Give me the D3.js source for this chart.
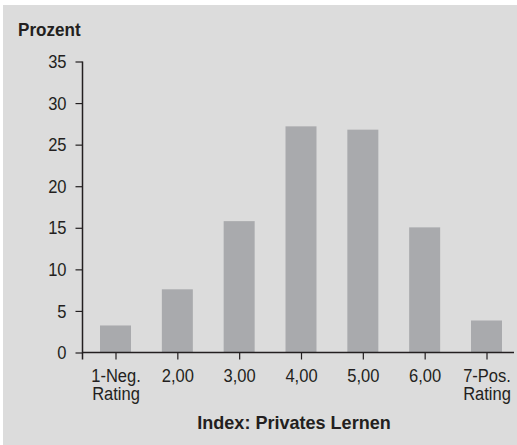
<!DOCTYPE html>
<html>
<head>
<meta charset="utf-8">
<script src="https://cdn.jsdelivr.net/npm/d3@7"></script>
<style>
  body { margin: 0; background: #fff; }
  text { font-family: "Liberation Sans", Arial, sans-serif; fill: #231f20; }
</style>
</head>
<body>
<div id="chart"></div>
<script>
// categories on the x axis (each may carry two lines)
const categories = ['1-Neg.|Rating', '2,00', '3,00', '4,00', '5,00', '6,00', '7-Pos.|Rating'];
// percentage per category
const values = [3.25, 7.6, 15.8, 27.2, 26.8, 15.05, 3.85];
const yTicks = [0, 5, 10, 15, 20, 25, 30, 35];

const width = 517, height = 445;
const axisLeft = 82.5, axisRight = 514, zeroY = 352.5, topY = 61.5;
const barWidth = 31;
const narrow = 0.87; // the reference uses a condensed face
const labelSize = 19;

const svg = d3.select('#chart').append('svg')
    .attr('width', width)
    .attr('height', height);

svg.append('rect')
    .attr('x', 3).attr('y', 5)
    .attr('width', width - 3).attr('height', height - 5)
    .attr('fill', '#dcdcdc');

let x = d3.scalePoint()
    .domain(categories)
    .range([115.5, 486.5]);

let y = d3.scaleLinear()
    .domain([0, 35])
    .range([zeroY, topY]);

// bars
svg.append('g').selectAll('rect')
    .data(values)
    .enter()
    .append('rect')
    .attr('x', (d, i) => x(categories[i]) - barWidth / 2)
    .attr('y', d => y(d))
    .attr('width', barWidth)
    .attr('height', d => zeroY - y(d))
    .attr('fill', '#a9aaad');

// y axis
let yAxis = svg.append('g')
    .attr('transform', 'translate(' + axisLeft + ',0)')
    .call(d3.axisLeft(y).tickValues(yTicks).tickSize(7).tickPadding(9).tickSizeOuter(0));
yAxis.select('.domain').remove();
yAxis.append('line')
    .attr('x1', 0).attr('x2', 0)
    .attr('y1', topY).attr('y2', zeroY + 7)
    .attr('stroke', '#231f20').attr('stroke-width', 1.5);
yAxis.selectAll('.tick line').attr('stroke', '#231f20').attr('stroke-width', 1.2);
yAxis.selectAll('.tick text')
    .attr('font-size', labelSize)
    .attr('font-family', '"Liberation Sans", Arial, sans-serif')
    .attr('fill', '#231f20')
    .attr('x', -16 / narrow)
    .attr('transform', 'scale(' + narrow + ',1)');

// x axis
let xAxis = svg.append('g')
    .attr('transform', 'translate(0,' + zeroY + ')')
    .call(d3.axisBottom(x).tickSize(7).tickFormat(''));
xAxis.select('.domain').remove();
xAxis.append('line')
    .attr('x1', axisLeft).attr('x2', axisRight)
    .attr('y1', 0).attr('y2', 0)
    .attr('stroke', '#231f20').attr('stroke-width', 1.5);
xAxis.selectAll('.tick line').attr('stroke', '#231f20').attr('stroke-width', 1.2);

xAxis.selectAll('.tick').each(function(d) {
    let t = d3.select(this).append('text')
        .attr('text-anchor', 'middle')
        .attr('font-size', labelSize)
        .attr('transform', 'scale(' + narrow + ',1)')
        .attr('font-family', '"Liberation Sans", Arial, sans-serif')
        .attr('fill', '#231f20');
    d.split('|').forEach((line, i) => {
        t.append('tspan')
            .attr('x', 0)
            .attr('y', 30 + i * 18)
            .text(line);
    });
});

// axis titles
svg.append('text')
    .attr('transform', 'translate(18,36) scale(0.95,1)')
    .attr('font-size', 18)
    .attr('font-weight', 'bold')
    .text('Prozent');

svg.append('text')
    .attr('transform', 'translate(294,429) scale(0.95,1)')
    .attr('text-anchor', 'middle')
    .attr('font-size', 19)
    .attr('font-weight', 'bold')
    .text('Index: Privates Lernen');
</script>
</body>
</html>
